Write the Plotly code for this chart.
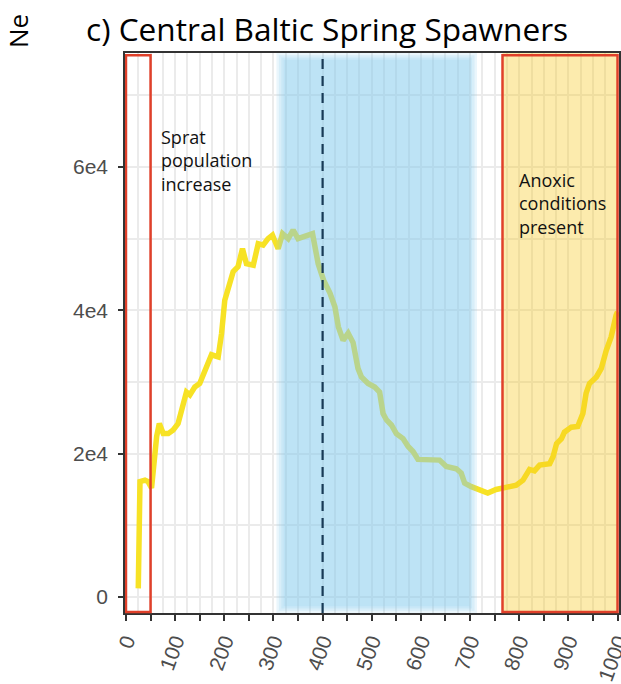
import plotly.graph_objects as go

# ---- data ----
generations = [25, 28.5, 38.6, 45, 52, 59, 62.4, 67.8, 75.8, 86, 96, 106, 116.5, 123, 130, 140, 150,
               160.6, 167, 174, 187.6, 194.5, 201, 208, 218, 228, 237, 245, 259, 269, 279, 289, 298,
               309.6, 318.5, 330, 340, 350, 364, 379.5, 391, 398, 402, 415, 425, 432, 441.7, 452, 462,
               472, 479, 492.5, 506, 516, 523, 530, 540, 550, 563.6, 574, 584, 594, 618, 638, 651.6,
               672, 682, 689, 702.6, 719.5, 736, 753, 774, 794, 807.7, 821, 831, 841.5, 862, 869, 876,
               886, 892, 906, 919, 929.5, 936, 943, 957, 967, 977, 987, 997, 1000]
ne_values = [1200, 16100, 16300, 16100, 15200, 21400, 22400, 24200, 22800, 22800, 23300, 24200, 27300,
             28600, 28200, 29300, 29800, 31700, 32400, 33800, 33500, 36800, 41400, 43100, 45400, 46100,
             48600, 46500, 46300, 49300, 49100, 50000, 50500, 48600, 50700, 50000, 51200, 50000, 50300,
             50700, 46500, 45100, 44200, 42400, 40500, 37700, 35800, 36800, 35500, 31900, 30700, 29800,
             29300, 28600, 25600, 24700, 24000, 22800, 22100, 21000, 20300, 19200, 19200, 19100, 18200,
             17900, 17300, 15900, 15400, 15000, 14500, 15000, 15400, 15600, 16300, 17800, 17600, 18400,
             18600, 19600, 21400, 22100, 23000, 23700, 23800, 25600, 28400, 29800, 30700, 31900, 34400,
             36300, 39300, 39800]

x_tickvals = list(range(0, 1001, 50))
x_ticktext = [str(v) if v % 100 == 0 else "" for v in x_tickvals]
y_tickvals = [0, 20000, 40000, 60000]
y_ticktext = ["0", "2e4", "4e4", "6e4"]

sprat_period = (0, 50)
anoxic_period = (766, 1000)
blue_period = (321, 699)
dashed_x = 400

title_text = "c) Central Baltic Spring Spawners"
y_title = "Ne"
sprat_label = "Sprat<br>population<br>increase"
anoxic_label = "Anoxic<br>conditions<br>present"

# ---- figure ----
fig = go.Figure()
fig.add_trace(go.Scatter(x=generations, y=ne_values, mode="lines",
                         line=dict(color="#F7E225", width=5.5), hoverinfo="skip",
                         showlegend=False))

shapes = []
# soft-edged blue band
for i in range(4):
    pad = (3 - i) * 5
    inset = i * 0.004
    shapes.append(dict(type="rect", xref="x", yref="paper",
                       x0=blue_period[0] - pad, x1=blue_period[1] + pad,
                       y0=inset, y1=1 - inset,
                       fillcolor="rgba(131,202,236,0.17)", line=dict(width=0),
                       layer="above"))
# yellow anoxic band
shapes.append(dict(type="rect", xref="x", yref="paper",
                   x0=anoxic_period[0], x1=anoxic_period[1], y0=0, y1=1,
                   fillcolor="rgba(248,200,33,0.37)", line=dict(width=0), layer="above"))
# dashed line
shapes.append(dict(type="line", xref="x", yref="paper", x0=dashed_x, x1=dashed_x, y0=0, y1=1,
                   line=dict(color="#183A56", width=2.2, dash="10px,7px"), layer="above"))
# red frames
for a, b in (sprat_period, anoxic_period):
    shapes.append(dict(type="rect", xref="x", yref="paper", x0=a, x1=b, y0=0.002, y1=0.996,
                       fillcolor="rgba(0,0,0,0)", line=dict(color="#E0402A", width=2.5),
                       layer="above"))

annotations = [
    dict(text=sprat_label, x=67, y=60977, xref="x", yref="y", xanchor="left", yanchor="middle",
         align="left", showarrow=False, font=dict(family="Open Sans", size=18, color="#111111")),
    dict(text=anoxic_label, x=795, y=54977, xref="x", yref="y", xanchor="left", yanchor="middle",
         align="left", showarrow=False, font=dict(family="Open Sans", size=18, color="#111111")),
    dict(text=y_title, x=18, y=31, xref="paper", yref="paper", showarrow=False, textangle=-90,
         xanchor="center", yanchor="middle",
         font=dict(family="Open Sans", size=26, color="#000000")),
    dict(text=title_text, x=84, y=29, xref="paper", yref="paper", showarrow=False,
         xanchor="left", yanchor="middle",
         font=dict(family="Open Sans", size=31.6, color="#000000")),
]
# convert pixel positions of page-level texts to paper coords
L, R, T, B = 125, 2, 53, 71
W, H = 621, 684
pw, ph = W - L - R, H - T - B
for ann in annotations[2:]:
    px, py = ann["x"], ann["y"]
    ann["x"] = (px - L) / pw
    ann["y"] = (H - B - py) / ph

fig.update_layout(
    width=W, height=H,
    margin=dict(l=L, r=R, t=T, b=B, pad=0),
    plot_bgcolor="white", paper_bgcolor="white",
    shapes=shapes, annotations=annotations,
    showlegend=False,
)
fig.update_xaxes(
    range=[-2, 1003], tickmode="array", tickvals=x_tickvals, ticktext=x_ticktext,
    tickangle=-70, ticks="outside", ticklen=6, tickwidth=1.5, tickcolor="#333333",
    tickfont=dict(family="Liberation Sans", size=21, color="#4D4D4D"),
    showgrid=True, gridcolor="#EBEBEB", gridwidth=1.6,
    minor=dict(dtick=25, tick0=0, showgrid=True, gridcolor="#EBEBEB", gridwidth=1.6, ticks=""),
    showline=True, linecolor="#333333", linewidth=1.5, mirror=True, zeroline=False,
    automargin=False, ticklabeloverflow="allow",
)
fig.update_yaxes(
    range=[-2233, 75907], tickmode="array", tickvals=y_tickvals, ticktext=y_ticktext,
    ticks="outside", ticklen=5, tickwidth=1.5, tickcolor="#333333",
    tickfont=dict(family="Liberation Sans", size=21, color="#4D4D4D"),
    showgrid=True, gridcolor="#EBEBEB", gridwidth=1.6,
    minor=dict(dtick=10000, tick0=0, showgrid=True, gridcolor="#EBEBEB", gridwidth=1.6, ticks=""),
    showline=True, linecolor="#333333", linewidth=1.5, mirror=True, zeroline=False,
    ticklabelstandoff=6, automargin=False,
)

fig.write_html("out.html", config={"displayModeBar": False},
               post_script="document.body.style.margin='0';")
